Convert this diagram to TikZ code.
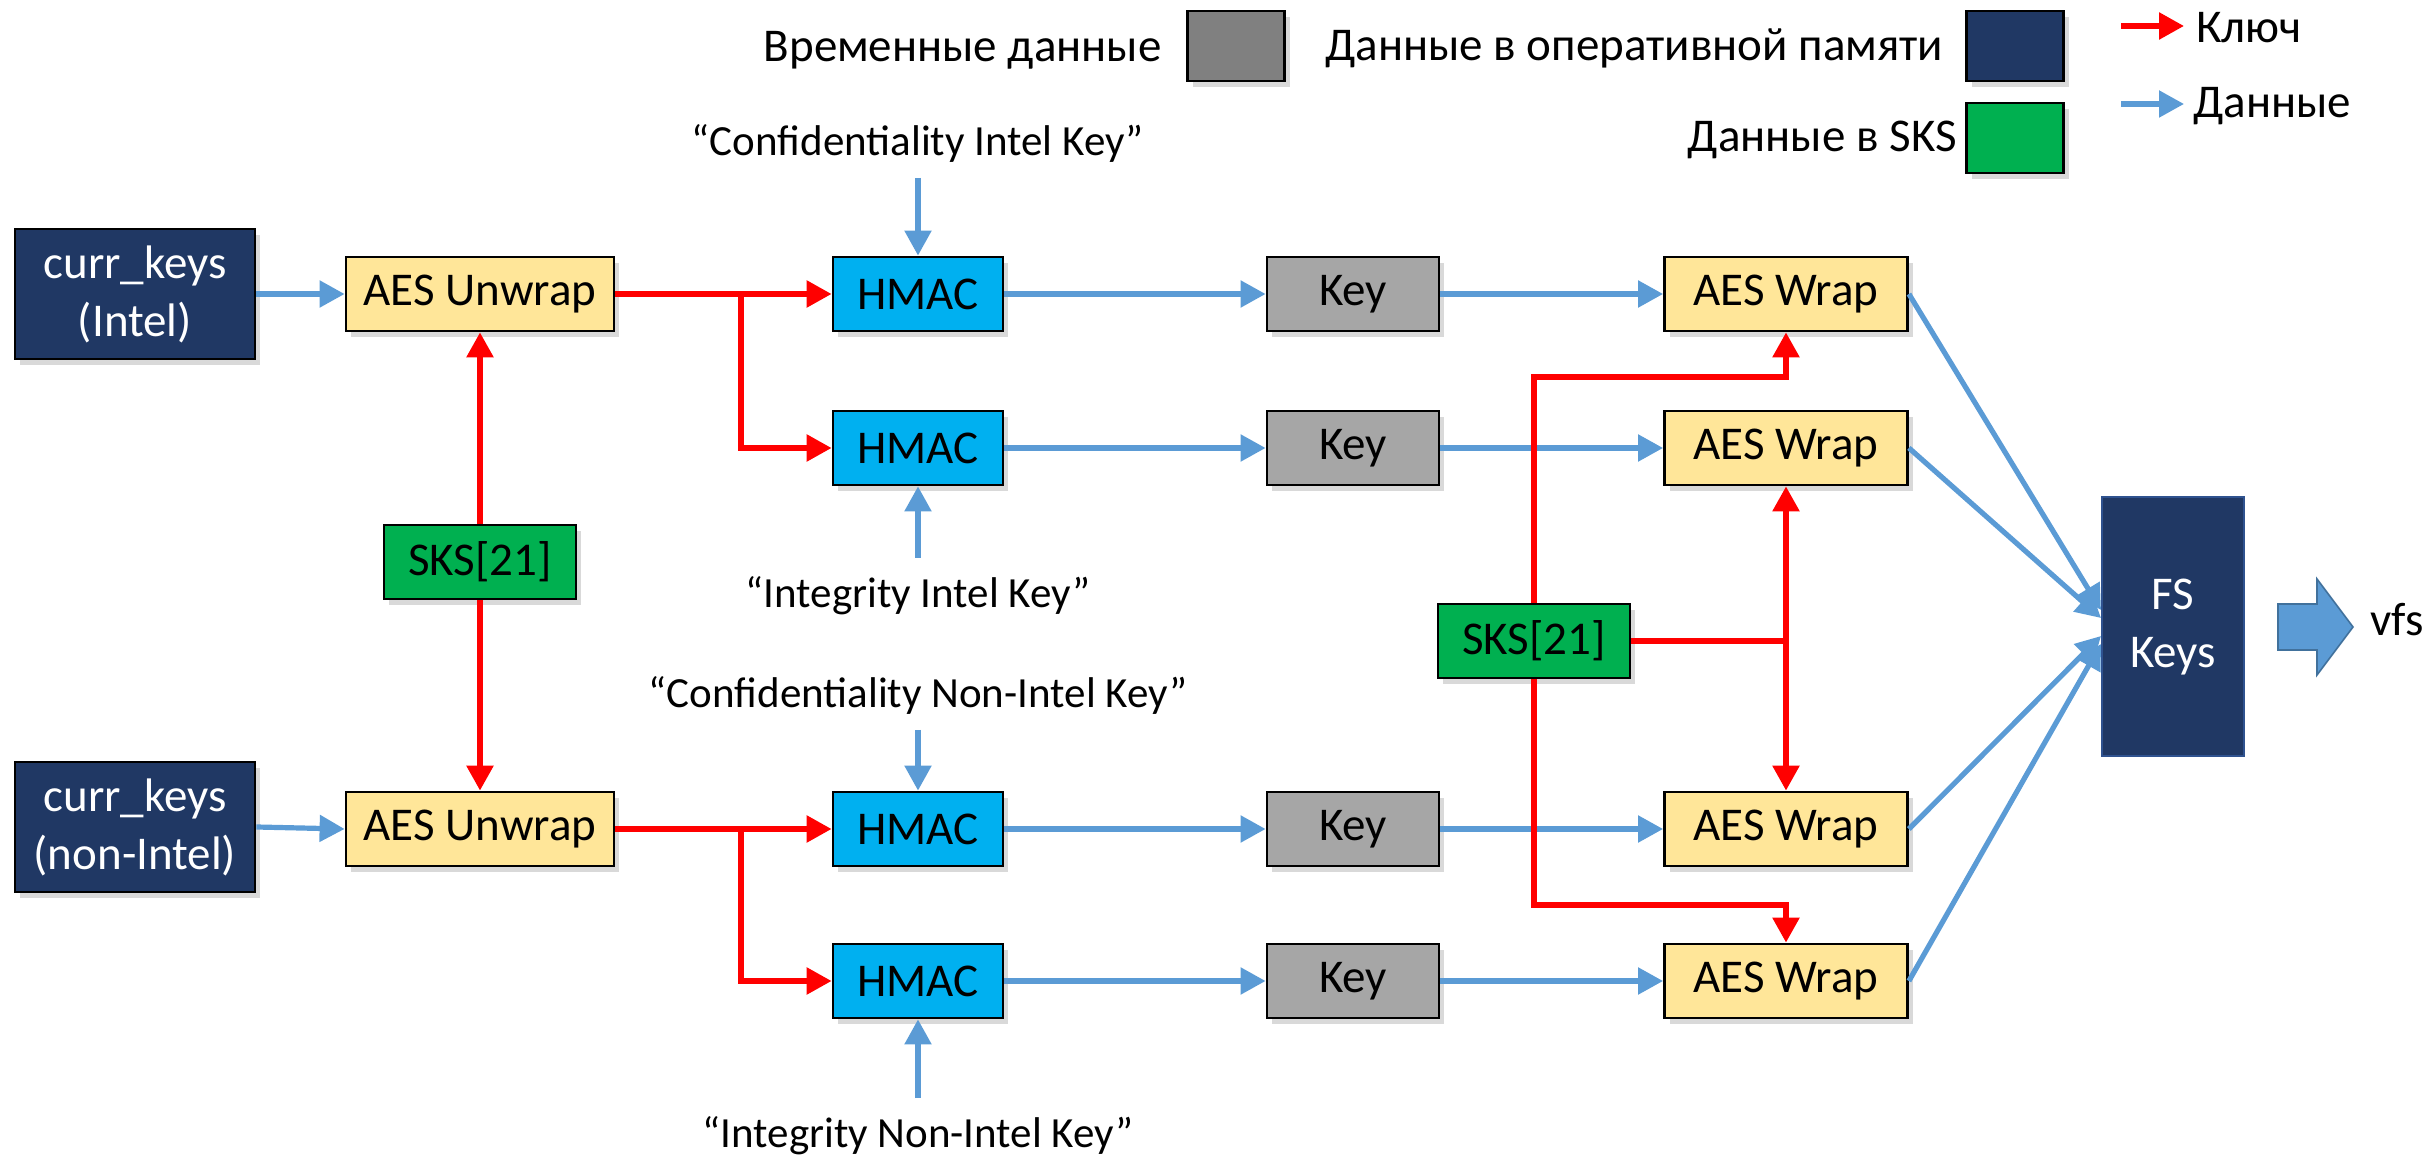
\documentclass[tikz,border=0pt]{standalone}
\usepackage{fontspec}
\setmainfont{Carlito}
\usetikzlibrary{arrows.meta,shadows,calc}
\definecolor{navy}{RGB}{32,56,100}
\definecolor{navyedge}{RGB}{47,82,143}
\definecolor{wrapy}{RGB}{255,230,153}
\definecolor{hmacb}{RGB}{0,176,240}
\definecolor{keyg}{RGB}{166,166,166}
\definecolor{legg}{RGB}{128,128,128}
\definecolor{sksg}{RGB}{0,176,80}
\definecolor{datab}{RGB}{91,155,213}
\definecolor{databd}{RGB}{65,113,156}
\definecolor{keyr}{RGB}{255,0,0}
\newcommand\fsbox{\fontsize{23.5}{29}\selectfont}
\newcommand\fslab{\fontsize{21.5}{26}\selectfont}
\begin{document}
\begin{tikzpicture}[x=0.5pt,y=-0.5pt,
  box/.style={draw=black, line width=1.4pt, inner sep=0pt, align=center, font=\fsbox,
    drop shadow={shadow xshift=2.5pt, shadow yshift=-3pt, opacity=0.3}},
  navybox/.style={box, fill=navy, text=white, minimum width=120pt, minimum height=65pt},
  unwbox/.style={box, fill=wrapy, minimum width=134pt, minimum height=37pt},
  hmbox/.style={box, fill=hmacb, minimum width=85pt, minimum height=37pt},
  keybox/.style={box, fill=keyg, minimum width=86pt, minimum height=37pt},
  wrbox/.style={box, fill=wrapy, minimum width=121.5pt, minimum height=37pt},
  sksbox/.style={box, fill=sksg, minimum width=96pt, minimum height=37pt},
  legbox/.style={box, minimum width=48.5pt, minimum height=35pt},
  lab/.style={inner sep=0pt, font=\fslab},
  legtext/.style={inner sep=0pt, font=\fsbox},
  bl/.style={draw=datab, line width=2.6pt, -{Triangle[length=12.5pt,width=13pt]}},
  rd/.style={draw=keyr, line width=2.8pt},
  rda/.style={rd, -{Triangle[length=12.5pt,width=13pt]}}]
\useasboundingbox (0,0) rectangle (2432,1159);

% legend
\node[legtext, anchor=east] (lt1) at (1162,50) {Временные данные};
\node[legbox, fill=legg] (lb1) at (1236,46) {};
\node[legtext, anchor=west] (lt2) at (1325,48) {Данные в оперативной памяти};
\node[legbox, fill=navy] (lb2) at (2015,46) {};
\node[legtext, anchor=east] (lt3) at (1957,140) {Данные в SKS};
\node[legbox, fill=sksg] (lb3) at (2015,138) {};
\coordinate (lr0) at (2121,26);
\node[legtext, anchor=west] (lk) at (2196,28) {Ключ};
\draw[rda, shorten >=6pt] (lr0) -- (lk.west |- lr0);
\coordinate (lbl0) at (2121,104);
\node[legtext, anchor=west] (ld) at (2193,106) {Данные};
\draw[bl, shorten >=4.5pt] (lbl0) -- (ld.west |- lbl0);

% nodes row 1/2
\node[navybox] (ck1) at (135,294) {curr\_keys\\(Intel)};
\node[unwbox] (unw1) at (480,294) {AES Unwrap};
\node[hmbox] (hm1) at (918,294) {HMAC};
\node[keybox] (k1) at (1353,294) {Key};
\node[wrbox] (wr1) at (1786,294) {AES Wrap};
\node[hmbox] (hm2) at (918,448) {HMAC};
\node[keybox] (k2) at (1353,448) {Key};
\node[wrbox] (wr2) at (1786,448) {AES Wrap};
% rows 3/4
\node[navybox] (ck2) at (135,827) {curr\_keys\\(non-Intel)};
\node[unwbox] (unw2) at (480,829) {AES Unwrap};
\node[hmbox] (hm3) at (918,829) {HMAC};
\node[keybox] (k3) at (1353,829) {Key};
\node[wrbox] (wr3) at (1786,829) {AES Wrap};
\node[hmbox] (hm4) at (918,981) {HMAC};
\node[keybox] (k4) at (1353,981) {Key};
\node[wrbox] (wr4) at (1786,981) {AES Wrap};
% SKS
\node[sksbox] (sks1) at (480,562) {SKS[21]};
\node[sksbox] (sks2) at (1534,641) {SKS[21]};
% FS keys
\node[draw=navyedge, line width=1pt, fill=navy, text=white, font=\fsbox, align=center,
  minimum width=71pt, minimum height=129.5pt, inner sep=0pt] (fs) at (2173,627) {FS\\Keys};
\fill[datab, draw=databd, line width=0.8pt] (2278,604) -- (2317,604) -- (2317,579) -- (2353,627)
  -- (2317,675) -- (2317,650) -- (2278,650) -- cycle;
\node[legtext, anchor=west] (vfs) at (2370,620) {vfs};

% labels
\node[lab] (l1) at (918,143) {“Confidentiality Intel Key”};
\node[lab] (l2) at (918,596) {“Integrity Intel Key”};
\node[lab] (l3) at (918,695) {“Confidentiality Non-Intel Key”};
\node[lab] (l4) at (918,1136) {“Integrity Non-Intel Key”};
\coordinate (a1) at (918,178);
\coordinate (a2) at (918,558);
\coordinate (a3) at (918,730);
\coordinate (a4) at (918,1098);
\draw[bl] (a1) -- (hm1);
\draw[bl] (a2) -- (hm2);
\draw[bl] (a3) -- (hm3);
\draw[bl] (a4) -- (hm4);

% data flow
\draw[bl] (ck1.east) -- (unw1.west);
\draw[bl] (ck2.east) -- (unw2.west);
\draw[bl] (hm1) -- (k1);
\draw[bl] (hm2) -- (k2);
\draw[bl] (hm3) -- (k3);
\draw[bl] (hm4) -- (k4);
\draw[bl] (k1) -- (wr1);
\draw[bl] (k2) -- (wr2);
\draw[bl] (k3) -- (wr3);
\draw[bl] (k4) -- (wr4);
\draw[bl] (wr1.east) -- ([yshift=8.5pt]fs.west);
\draw[bl] (wr2.east) -- ([yshift=4.5pt]fs.west);
\draw[bl] (wr3.east) -- ([yshift=-4.5pt]fs.west);
\draw[bl] (wr4.east) -- ([yshift=-8.5pt]fs.west);

% key flow
\coordinate (b1) at (741,294);
\coordinate (b2) at (741,829);
\draw[rda] (unw1.east) -- (hm1.west);
\draw[rda] (b1) |- (hm2.west);
\draw[rda] (unw2.east) -- (hm3.west);
\draw[rda] (b2) |- (hm4.west);
\draw[rda] (sks1) -- (unw1);
\draw[rda] (sks1) -- (unw2);
\coordinate (t1) at (1534,377);
\coordinate (t2) at (1534,905);
\coordinate (t3) at (1786,641);
\draw[rda] (sks2.north) -- (t1) -| (wr1.south);
\draw[rda] (sks2.south) -- (t2) -| (wr4.north);
\draw[rd] (sks2.east) -- (t3);
\draw[rda] (t3) -- (wr2.south);
\draw[rda] (t3) -- (wr3.north);
\end{tikzpicture}
\end{document}
